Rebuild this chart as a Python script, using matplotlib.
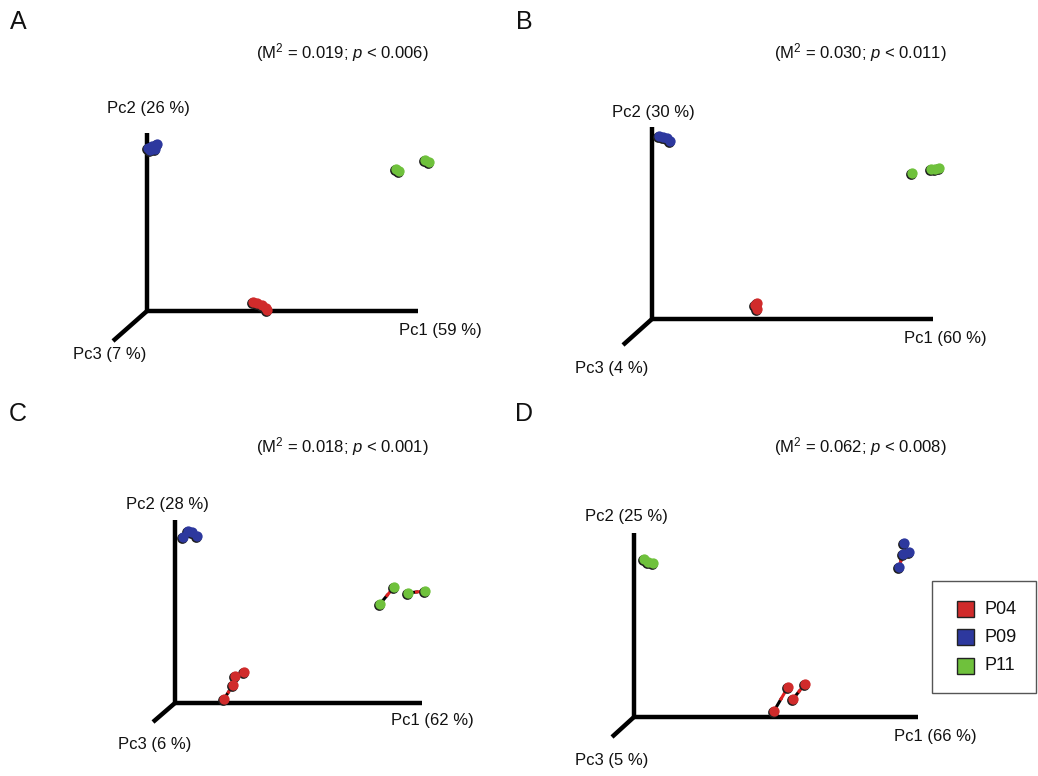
import matplotlib
matplotlib.use("Agg")
import matplotlib.pyplot as plt
from matplotlib.patches import Rectangle
import numpy as np

plt.rcParams['font.family'] = ['Liberation Sans', 'DejaVu Sans']
plt.rcParams['mathtext.fontset'] = 'custom'
plt.rcParams['mathtext.rm'] = 'Liberation Sans'
plt.rcParams['mathtext.it'] = 'Liberation Sans:italic'

# ---------------- data ----------------
panel_letters = ["A", "B", "C", "D"]
m2_values = ["0.019", "0.030", "0.018", "0.062"]
p_values = ["0.006", "0.011", "0.001", "0.008"]
pc1_pct = [59, 60, 62, 66]
pc2_pct = [26, 30, 28, 25]
pc3_pct = [7, 4, 6, 5]

groups = ["P04", "P09", "P11"]
group_colors = {"P04": "#d02b2b", "P09": "#2d389e", "P11": "#6fc13c"}

# projected ordination coordinates (screen units, origin at axis origin, y up)
A_P04 = [(106, 9), (110, 8), (115, 6), (119, 3), (120, 1)]
A_P09 = [(1, 163), (5, 165), (10, 167), (8, 162), (3, 161)]
A_P11 = [(249, 142), (252, 140), (278, 151), (282, 149)]

B_P04 = [(103, 14), (105, 10), (105, 16)]
B_P09 = [(7, 183), (11, 182), (15, 181), (18, 178)]
B_P11 = [(260, 146), (279, 150), (283, 150), (287, 151)]

C_P04 = [(49, 4), (58, 18), (60, 27), (69, 31)]
C_P09 = [(8, 166), (13, 172), (17, 171), (22, 167)]
C_P11 = [(205, 99), (219, 116), (233, 110), (250, 112)]

D_P04 = [(140, 6), (154, 30), (159, 18), (171, 33)]
D_P09 = [(270, 174), (275, 165), (269, 163), (265, 150)]
D_P11 = [(10, 158), (14, 155), (19, 154)]

panel_points = [
    {"P04": A_P04, "P09": A_P09, "P11": A_P11},
    {"P04": B_P04, "P09": B_P09, "P11": B_P11},
    {"P04": C_P04, "P09": C_P09, "P11": C_P11},
    {"P04": D_P04, "P09": D_P09, "P11": D_P11},
]
# procrustes connection lines (group, index a, index b)
panel_links = [
    [],
    [],
    [("P04", 0, 1), ("P11", 0, 1), ("P11", 2, 3)],
    [("P04", 0, 1), ("P04", 2, 3), ("P09", 2, 3)],
]

# ---------------- layout ----------------
W, H = 1038, 776
origins = [(147, 311), (652, 319), (175, 703), (634, 717)]
pc1_len = [271, 281, 247, 284]
pc2_len = [178, 192, 183, 184]
pc3_vec = [(-34, -30), (-29, -26), (-22, -19), (-22, -20)]
letter_pos = [(18, 22), (524, 22), (18, 414), (524, 414)]
stat_pos = [(342, 53), (860, 53), (342, 447), (860, 447)]
pc2_lab = [(148, 108), (653, 112), (167, 505), (626, 516)]
pc1_lab = [(440, 330), (945, 339), (432, 720), (935, 737)]
pc3_lab = [(110, 354), (612, 368), (155, 745), (612, 760)]

fig = plt.figure(figsize=(W / 100, H / 100), dpi=100)
ax = fig.add_axes([0, 0, 1, 1])
ax.set_xlim(0, W)
ax.set_ylim(H, 0)
ax.axis("off")

txt_col = "#111111"

for i in range(4):
    ox, oy = origins[i]
    lw = 3.2
    # axes
    ax.plot([ox, ox + pc1_len[i]], [oy, oy], color="black", lw=lw, solid_capstyle="butt", zorder=1)
    ax.plot([ox, ox], [oy + 1.5, oy - pc2_len[i]], color="black", lw=lw, solid_capstyle="butt", zorder=1)
    ax.plot([ox, ox + pc3_vec[i][0]], [oy, oy - pc3_vec[i][1]], color="black", lw=lw,
            solid_capstyle="butt", zorder=1)

    pts = panel_points[i]
    # links (under the spheres)
    for g, a, b in panel_links[i]:
        xa, ya = pts[g][a]
        xb, yb = pts[g][b]
        xm, ym = (xa + xb) / 2, (ya + yb) / 2
        ax.plot([ox + xa, ox + xm], [oy - ya, oy - ym], color="black", lw=2.2, zorder=2)
        ax.plot([ox + xm, ox + xb], [oy - ym, oy - yb], color="#e02020", lw=2.2, zorder=2)

    for g in groups:
        arr = np.array(pts[g], dtype=float)
        # shadow for a shaded-sphere look
        ax.scatter(ox + arr[:, 0] - 0.9, oy - arr[:, 1] + 0.8, s=60, color="#1e1e1e",
                   linewidths=0, zorder=3)
        ax.scatter(ox + arr[:, 0], oy - arr[:, 1], s=55, color=group_colors[g],
                   linewidths=0, zorder=4)

    # texts
    ax.text(*letter_pos[i], panel_letters[i], fontsize=18, ha="center", va="center", color=txt_col)
    ax.text(*stat_pos[i],
            r"(M$^{\mathrm{2}}$ = " + m2_values[i] + r"; $\it{p}$ < " + p_values[i] + ")",
            fontsize=12, ha="center", va="center", color=txt_col)
    ax.text(*pc2_lab[i], f"Pc2 ({pc2_pct[i]} %)", fontsize=12, ha="center", va="center", color=txt_col)
    ax.text(*pc1_lab[i], f"Pc1 ({pc1_pct[i]} %)", fontsize=12, ha="center", va="center", color=txt_col)
    ax.text(*pc3_lab[i], f"Pc3 ({pc3_pct[i]} %)", fontsize=12, ha="center", va="center", color=txt_col)

# legend box
ax.add_patch(Rectangle((932, 581), 104, 112, facecolor="white", edgecolor="#555555", lw=1.0, zorder=6))
leg_y = [609, 637, 666]
for g, y in zip(groups, leg_y):
    ax.add_patch(Rectangle((957, y - 8), 17, 16, facecolor=group_colors[g], edgecolor="#222222",
                           lw=1.0, zorder=7))
    ax.text(984, y, g, fontsize=13, ha="left", va="center", color=txt_col, zorder=7)

fig.savefig("out.png", dpi=100)
